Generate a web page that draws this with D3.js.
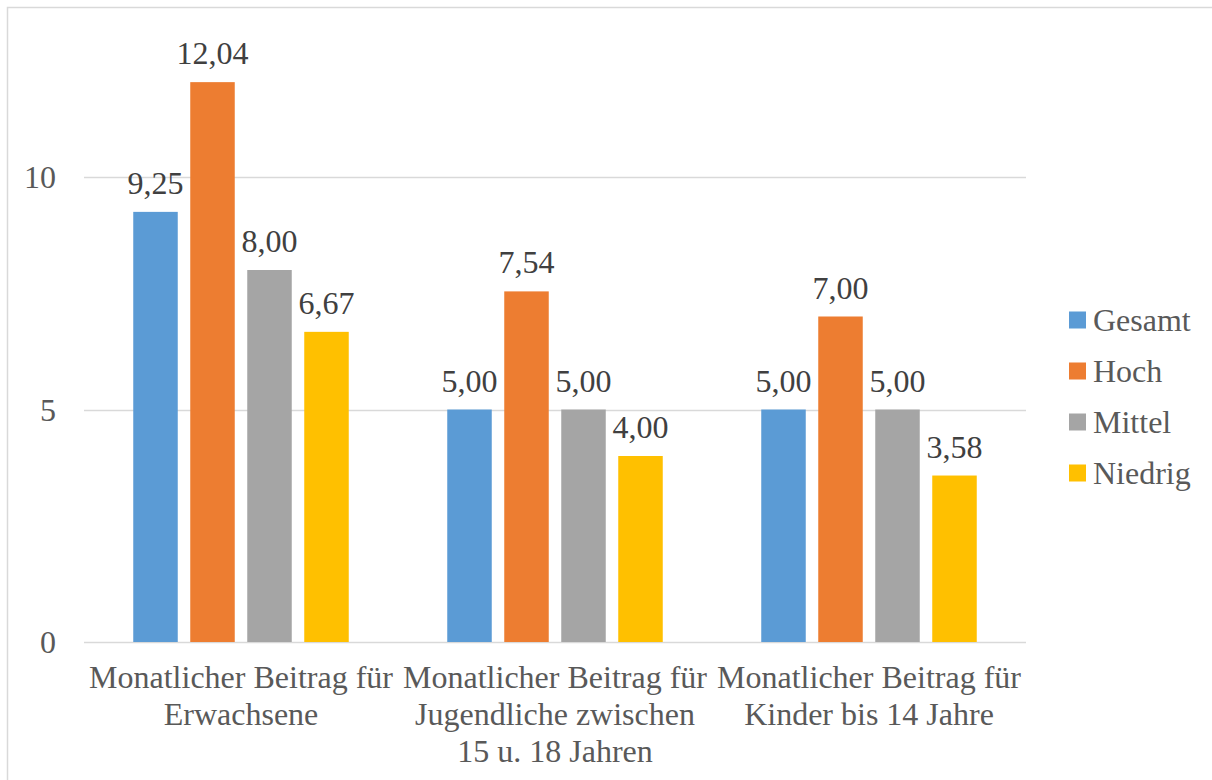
<!DOCTYPE html>
<html>
<head>
<meta charset="utf-8">
<script src="https://cdn.jsdelivr.net/npm/d3@7"></script>
<style>
  html, body { margin: 0; padding: 0; background: #fff; }
  svg { display: block; }
</style>
</head>
<body>
<script>
// Monthly contribution by income group
const categories = [
  ["Monatlicher Beitrag für", "Erwachsene"],
  ["Monatlicher Beitrag für", "Jugendliche zwischen", "15 u. 18 Jahren"],
  ["Monatlicher Beitrag für", "Kinder bis 14 Jahre"]
];
const seriesNames = ["Gesamt", "Hoch", "Mittel", "Niedrig"];
const gesamt  = [9.25, 5.00, 5.00];
const hoch    = [12.04, 7.54, 7.00];
const mittel  = [8.00, 5.00, 5.00];
const niedrig = [6.67, 4.00, 3.58];
const yTicks = [0, 5, 10];

const colors = ["#5B9BD5", "#ED7D31", "#A5A5A5", "#FFC000"];
const seriesValues = [gesamt, hoch, mittel, niedrig];
const FONT = "'Liberation Serif', 'Times New Roman', Times, Tinos, 'Nimbus Roman', 'DejaVu Serif', serif";

const W = 1212, H = 780;
const svg = d3.select("body").append("svg").attr("width", W).attr("height", H)
  .attr("font-family", FONT);

// chart frame (extends past the bottom/right edges)
svg.append("rect")
  .attr("x", 7.5).attr("y", 7.5).attr("width", W + 20).attr("height", H + 20)
  .attr("fill", "#fff").attr("stroke", "#D9D9D9").attr("stroke-width", 1.5);

const plot = { left: 84, right: 1026, bottom: 642 };
const unit = 46.5;

const x0 = d3.scaleBand()
  .domain(d3.range(categories.length))
  .range([plot.left, plot.right])
  .paddingInner(0).paddingOuter(0);

// bars within a group: width 44.5, step 57
const groupW = x0.bandwidth();
const barW = 44.5, barStep = 57;
const x1 = d3.scaleLinear().domain([0, 1]).range([0, barStep]);
const groupStart = (groupW - (barStep * 3 + barW)) / 2;

const y = d3.scaleLinear().domain([0, 13]).range([plot.bottom, plot.bottom - 13 * unit]);

// gridlines
svg.append("g").selectAll("line").data(yTicks).join("line")
  .attr("x1", plot.left).attr("x2", plot.right)
  .attr("y1", d => Math.round(y(d)) + 0.5).attr("y2", d => Math.round(y(d)) + 0.5)
  .attr("stroke", "#D9D9D9").attr("stroke-width", 1.5);

// y tick labels
svg.append("g").selectAll("text").data(yTicks).join("text")
  .attr("x", 56).attr("y", d => y(d) + 11)
  .attr("text-anchor", "end")
  .attr("font-family", FONT)
  .attr("font-size", 32).attr("fill", "#595959")
  .text(d => d);

// bars
const bars = [];
seriesValues.forEach((vals, s) => {
  vals.forEach((v, c) => {
    bars.push({ s, c, v });
  });
});

const fmt = v => d3.format(".2f")(v).replace(".", ",");

const barX = d => x0(d.c) + groupStart + x1(d.s);

svg.append("g").selectAll("rect").data(bars).join("rect")
  .attr("x", barX)
  .attr("y", d => y(d.v))
  .attr("width", barW)
  .attr("height", d => y(0) - y(d.v))
  .attr("fill", d => colors[d.s]);

// value labels
svg.append("g").selectAll("text").data(bars).join("text")
  .attr("x", d => barX(d) + barW / 2)
  .attr("y", d => y(d.v) - 18)
  .attr("text-anchor", "middle")
  .attr("font-family", FONT)
  .attr("font-size", 32).attr("fill", "#404040")
  .text(d => fmt(d.v));

// category labels
const cat = svg.append("g").selectAll("text").data(categories).join("text")
  .attr("text-anchor", "middle")
  .attr("font-family", FONT)
  .attr("font-size", 32).attr("fill", "#595959");
cat.each(function (lines, i) {
  const t = d3.select(this);
  lines.forEach((ln, k) => {
    t.append("tspan")
      .attr("x", x0(i) + groupW / 2)
      .attr("y", 688 + k * 37)
      .text(ln);
  });
});

// legend
const leg = svg.append("g").selectAll("g").data(seriesNames).join("g")
  .attr("transform", (d, i) => `translate(1069, ${320 + i * 51})`);
leg.append("rect")
  .attr("x", 0).attr("y", -8.5).attr("width", 17).attr("height", 17)
  .attr("fill", (d, i) => colors[i]);
leg.append("text")
  .attr("x", 24).attr("y", 11)
  .attr("font-family", FONT)
  .attr("font-size", 32).attr("fill", "#595959")
  .text(d => d);
</script>
</body>
</html>
